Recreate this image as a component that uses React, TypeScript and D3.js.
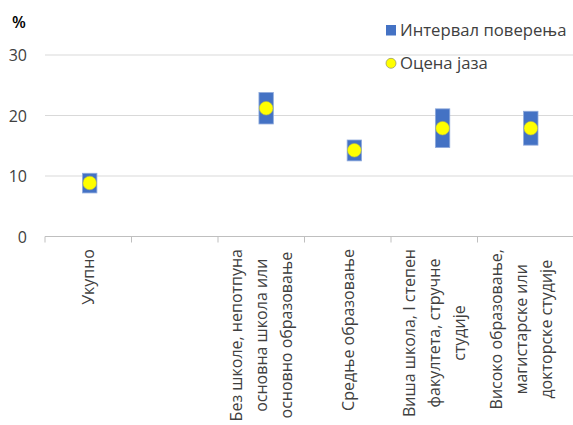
import React, { useEffect, useRef } from 'react';
import * as d3 from 'd3';

// categories on the x axis (line breaks as in the original)
const categories = ['total', 'gap', 'none', 'secondary', 'college', 'higher'];
const categoryLines = [
  ['Укупно'],
  [],
  ['Без школе, непотпуна', 'основна школа или', 'основно образовање'],
  ['Средње образовање'],
  ['Виша школа, I степен', 'факултета, стручне', 'студије'],
  ['Високо образовање,', 'магистарске или', 'докторске студије'],
];

// confidence interval and gap estimate (%), null = no data
const lower = [7.2, null, 18.6, 12.5, 14.7, 15.1];
const upper = [10.45, null, 23.8, 15.95, 21.1, 20.7];
const estimate = [8.85, null, 21.2, 14.25, 17.9, 17.9];

const yTicks = [0, 10, 20, 30];
const legendLabels = ['Интервал поверења', 'Оцена јаза'];

const W = 573, H = 425;
const FONT = '"Open Sans", sans-serif';
const TEXT = '#404040';
const BLUE = '#4472C4';

export default function App() {
  const svgRef = useRef<SVGSVGElement>(null);

  useEffect(() => {
    const svg = d3.select(svgRef.current);
    if (!svg.node()) return;
    svg.selectAll('*').remove();

    const x = d3.scaleBand<string>().domain(categories).range([45, 564]);
    // interval marks sit on their own (scatter) scale, slightly wider than the bands
    const xm = d3.scalePoint<string>().domain(categories).range([89.7, 530.8]);
    const y = d3.scaleLinear().domain([0, 30]).range([236.5, 55]);

    // gridlines
    svg.append('g')
      .selectAll('line')
      .data(yTicks.filter(d => d > 0))
      .join('line')
      .attr('x1', 45).attr('x2', W)
      .attr('y1', d => y(d)).attr('y2', d => y(d))
      .attr('stroke', '#d9d9d9').attr('stroke-width', 1);

    // y tick labels
    svg.append('g')
      .selectAll('text')
      .data(yTicks)
      .join('text')
      .attr('x', 27)
      .attr('y', d => y(d) + 6)
      .attr('text-anchor', 'end')
      .attr('font-family', FONT)
      .attr('font-size', 16)
      .attr('fill', TEXT)
      .text(d => d);

    svg.append('text')
      .attr('x', 12).attr('y', 28)
      .attr('font-family', FONT).attr('font-size', 16)
      .attr('font-weight', 600)
      .attr('fill', '#000')
      .text('%');

    // x axis
    svg.append('line')
      .attr('x1', 45).attr('x2', W)
      .attr('y1', y(0)).attr('y2', y(0))
      .attr('stroke', '#bfbfbf');
    svg.append('g')
      .selectAll('line')
      .data(categories)
      .join('line')
      .attr('x1', d => x(d)!).attr('x2', d => x(d)!)
      .attr('y1', y(0)).attr('y2', y(0) + 6)
      .attr('stroke', '#bfbfbf');

    // x labels, rotated, lines centred inside the block
    const top = 249;
    const lineH = 25;
    categories.forEach((c, i) => {
      const lines = categoryLines[i];
      if (!lines.length) return;
      const cx = x(c)! + x.bandwidth() / 2;
      const g = svg.append('g').attr('transform', `translate(${cx},${top}) rotate(-90)`);
      const texts = g.selectAll('text')
        .data(lines)
        .join('text')
        .attr('text-anchor', 'middle')
        .attr('font-family', FONT)
        .attr('font-size', 16)
        .attr('fill', TEXT)
        .attr('y', (_, j) => (j - (lines.length - 1) / 2) * lineH + 6)
        .text(d => d);
      let maxW = 0;
      texts.each(function () {
        maxW = Math.max(maxW, (this as SVGTextElement).getComputedTextLength());
      });
      texts.attr('x', -maxW / 2);
    });

    // confidence intervals
    const idx = categories.map((_, i) => i).filter(i => estimate[i] != null);
    svg.append('g')
      .selectAll('rect')
      .data(idx)
      .join('rect')
      .attr('x', i => xm(categories[i])! - 7.2)
      .attr('y', i => y(upper[i]!))
      .attr('width', 14.4)
      .attr('height', i => y(lower[i]!) - y(upper[i]!))
      .attr('fill', BLUE)
      .attr('stroke', '#8faadc')
      .attr('stroke-width', 0.8);

    // estimates
    svg.append('g')
      .selectAll('circle')
      .data(idx)
      .join('circle')
      .attr('cx', i => xm(categories[i])!)
      .attr('cy', i => y(estimate[i]!))
      .attr('r', 6.8)
      .attr('fill', '#ffff00')
      .attr('stroke', '#b8b84a')
      .attr('stroke-width', 0.6);

    // legend
    const lg = svg.append('g');
    lg.append('rect')
      .attr('x', 386).attr('y', 25).attr('width', 10).attr('height', 10.5)
      .attr('fill', BLUE);
    lg.append('circle')
      .attr('cx', 391).attr('cy', 63.3).attr('r', 5)
      .attr('fill', '#ffff00').attr('stroke', '#8c8c6a').attr('stroke-width', 0.7);
    lg.selectAll('text')
      .data(legendLabels)
      .join('text')
      .attr('x', 400)
      .attr('y', (_, i) => 36 + i * 33)
      .attr('font-family', FONT)
      .attr('font-size', 16.7)
      .attr('fill', TEXT)
      .text(d => d);
  }, []);

  return (
    <svg
      ref={svgRef}
      width={W}
      height={H}
      style={{ position: 'absolute', left: 0, top: 0, background: '#fff' }}
    />
  );
}
